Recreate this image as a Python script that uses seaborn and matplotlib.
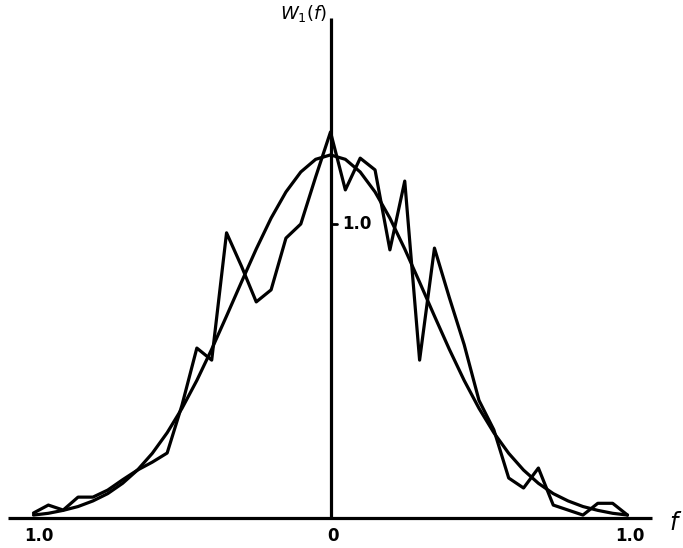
import numpy as np
import pandas as pd
import matplotlib
matplotlib.use("Agg")
import matplotlib.pyplot as plt
import seaborn as sns

# ---- data ----
f_grid = [-1.00, -0.95, -0.90, -0.85, -0.80, -0.75, -0.70, -0.65, -0.60, -0.55,
          -0.50, -0.45, -0.40, -0.35, -0.30, -0.25, -0.20, -0.15, -0.10, -0.05,
          0.00, 0.05, 0.10, 0.15, 0.20, 0.25, 0.30, 0.35, 0.40, 0.45,
          0.50, 0.55, 0.60, 0.65, 0.70, 0.75, 0.80, 0.85, 0.90, 0.95, 1.00]

# jagged (measured) curve
w_measured = [0.017, 0.044, 0.027, 0.071, 0.071, 0.095, 0.130, 0.163, 0.190, 0.221,
              0.384, 0.578, 0.537, 0.970, 0.857, 0.735, 0.776, 0.952, 1.000, 1.160,
              1.313, 1.116, 1.224, 1.184, 0.912, 1.146, 0.537, 0.918, 0.750, 0.590,
              0.400, 0.300, 0.136, 0.102, 0.170, 0.044, 0.027, 0.010, 0.050, 0.050, 0.010]

# smooth (theoretical) curve
w_smooth = [0.010, 0.016, 0.026, 0.039, 0.058, 0.083, 0.118, 0.163, 0.220, 0.290,
            0.373, 0.468, 0.574, 0.687, 0.802, 0.915, 1.020, 1.109, 1.177, 1.220,
            1.235, 1.220, 1.177, 1.109, 1.020, 0.915, 0.802, 0.687, 0.574, 0.468,
            0.373, 0.290, 0.220, 0.163, 0.118, 0.083, 0.058, 0.039, 0.026, 0.016, 0.010]

x_tick_labels = ["1.0", "0", "1.0"]
x_tick_pos = [-1.0, 0.0, 1.0]
y_tick_label = "1.0"
y_tick_pos = 1.0

df = pd.DataFrame({"f": f_grid, "measured": w_measured, "smooth": w_smooth})

sns.set_theme(style="white")
plt.rcParams['font.family'] = ['DejaVu Sans']
plt.rcParams['text.color'] = 'black'

fig = plt.figure(figsize=(6.83, 5.48), dpi=100)
ax = fig.add_axes([0, 0, 1, 1])

# pixel mapping: x_px = 330.5 + f*297 ; y_px = 518 - W*294
sx, cx = 297.0, 330.5
sy, cy = 294.0, 518.0
ax.set_xlim(-cx / sx, (683 - cx) / sx)
ax.set_ylim(-(548 - cy) / sy, cy / sy)
for s in ax.spines.values():
    s.set_visible(False)
ax.set_xticks([])
ax.set_yticks([])

lw = 2.3
sns.lineplot(data=df, x="f", y="smooth", ax=ax, color="black", lw=lw,
             sort=True, estimator=None)
sns.lineplot(data=df, x="f", y="measured", ax=ax, color="black", lw=lw,
             sort=True, estimator=None)
ax.set_xlabel("")
ax.set_ylabel("")

# axes
ax.plot([(8 - cx) / sx, (652 - cx) / sx], [0, 0], color="black", lw=2.3,
        solid_capstyle="butt")
ax.plot([0, 0], [0, (cy - 18) / sy], color="black", lw=2.3, solid_capstyle="butt")

# y tick
ax.plot([0, 6 / sx], [y_tick_pos, y_tick_pos], color="black", lw=2.0)
ax.text(12 / sx, y_tick_pos, y_tick_label, ha="left", va="center",
        fontsize=12, fontweight="bold", color="black")

# x tick labels
offsets = [5.5 / sx, 2.5 / sx, 2.5 / sx]
for p, lab, o in zip(x_tick_pos, x_tick_labels, offsets):
    ax.text(p + o, -18 / sy, lab, ha="center", va="center",
            fontsize=12, fontweight="bold", color="black")

# axis names
ax.text((676 - cx) / sx, (cy - 523) / sy, r"$f$", ha="center", va="center",
        fontsize=17, color="black")
ax.text(-3 / sx, (cy - 14) / sy, r"$W_1(f)$", ha="right", va="center",
        fontsize=13, color="black")

fig.savefig("out.png", dpi=100)
